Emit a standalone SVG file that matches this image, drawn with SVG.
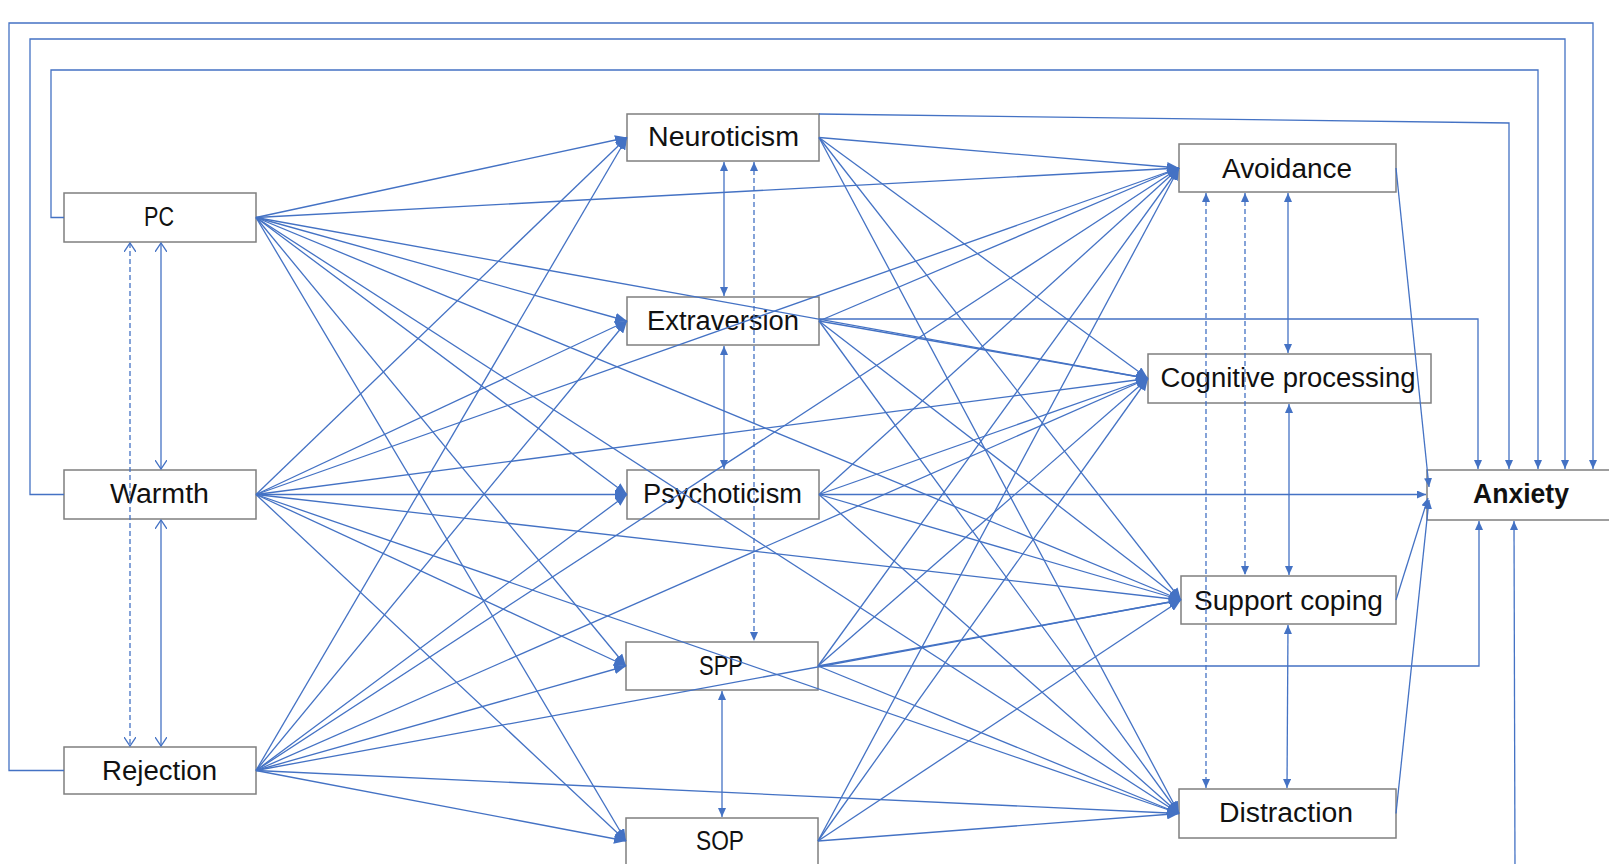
<svg xmlns="http://www.w3.org/2000/svg" width="1609" height="864" viewBox="0 0 1609 864">
<style>
.box{fill:#fff;stroke:#7f7f7f;stroke-width:1.5}
.t{font-family:"Liberation Sans",Arial,sans-serif;font-size:27px;fill:#111;text-anchor:middle}
.b{font-weight:bold}
.c{stroke:#4472C4;stroke-width:1.3;fill:none}
.f{marker-end:url(#big)}
.d{stroke-dasharray:5,3}
.s2{marker-start:url(#sm);marker-end:url(#sm)}
.v2{marker-start:url(#v);marker-end:url(#v)}
.se{marker-end:url(#sm)}
</style>
<defs>
<marker id="big" markerUnits="userSpaceOnUse" markerWidth="12" markerHeight="10" refX="12" refY="5" orient="auto"><path d="M0,0 L12,5 L0,10 z" fill="#4472C4"/></marker>
<marker id="sm" markerUnits="userSpaceOnUse" markerWidth="9" markerHeight="8" refX="9" refY="4" orient="auto-start-reverse"><path d="M0,0 L9,4 L0,8 z" fill="#4472C4"/></marker>
<marker id="v" markerUnits="userSpaceOnUse" markerWidth="10" markerHeight="12" refX="9" refY="6" orient="auto-start-reverse"><path d="M0,0 L9,6 L0,12" fill="none" stroke="#4472C4" stroke-width="1.3"/></marker>
</defs>
<rect width="1609" height="864" fill="#fff"/>
<g id="PC"><rect class="box" x="64" y="193" width="192" height="49"/><text class="t" x="159" y="226" textLength="30" lengthAdjust="spacingAndGlyphs">PC</text></g>
<g id="Warmth"><rect class="box" x="64" y="470" width="192" height="49"/><text class="t" x="159.5" y="503" textLength="99" lengthAdjust="spacingAndGlyphs">Warmth</text></g>
<g id="Rejection"><rect class="box" x="64" y="747" width="192" height="47"/><text class="t" x="159.5" y="780" textLength="115" lengthAdjust="spacingAndGlyphs">Rejection</text></g>
<g id="Neuroticism"><rect class="box" x="627" y="114" width="192" height="47"/><text class="t" x="723.5" y="146" textLength="151" lengthAdjust="spacingAndGlyphs">Neuroticism</text></g>
<g id="Extraversion"><rect class="box" x="627" y="297" width="192" height="48"/><text class="t" x="723" y="330" textLength="152" lengthAdjust="spacingAndGlyphs">Extraversion</text></g>
<g id="Psychoticism"><rect class="box" x="627" y="470" width="192" height="49"/><text class="t" x="722.5" y="503" textLength="159" lengthAdjust="spacingAndGlyphs">Psychoticism</text></g>
<g id="SPP"><rect class="box" x="626" y="642" width="192" height="48"/><text class="t" x="721" y="675" textLength="44" lengthAdjust="spacingAndGlyphs">SPP</text></g>
<g id="SOP"><rect class="box" x="626" y="818" width="192" height="50"/><text class="t" x="720" y="850" textLength="48" lengthAdjust="spacingAndGlyphs">SOP</text></g>
<g id="Avoidance"><rect class="box" x="1179" y="144" width="217" height="48"/><text class="t" x="1287" y="178" textLength="130" lengthAdjust="spacingAndGlyphs">Avoidance</text></g>
<g id="Cognitive"><rect class="box" x="1148" y="354" width="283" height="49"/><text class="t" x="1288" y="387" textLength="255" lengthAdjust="spacingAndGlyphs">Cognitive processing</text></g>
<g id="Support"><rect class="box" x="1181" y="576" width="215" height="48"/><text class="t" x="1288.5" y="610" textLength="189" lengthAdjust="spacingAndGlyphs">Support coping</text></g>
<g id="Distraction"><rect class="box" x="1179" y="789" width="217" height="49"/><text class="t" x="1286" y="822" textLength="134" lengthAdjust="spacingAndGlyphs">Distraction</text></g>
<g id="Anxiety"><rect class="box" x="1427" y="470" width="200" height="50"/><text class="t b" x="1521" y="503" textLength="96" lengthAdjust="spacingAndGlyphs">Anxiety</text></g>
<g id="connectors">
<!-- feedback routes to Anxiety -->
<polyline class="c se" points="64,770.5 9,770.5 9,23 1593,23 1593,469"/>
<polyline class="c se" points="64,494.5 30,494.5 30,39 1565,39 1565,469"/>
<polyline class="c se" points="64,217.5 51,217.5 51,70 1538,70 1538,469"/>
<polyline class="c se" points="819,114 1509,123 1509,469"/>
<polyline class="c se" points="819,319 1478,319 1478,469"/>
<line class="c se" x1="819" y1="494.5" x2="1426" y2="494.5"/>
<polyline class="c se" points="818,666 1479,666 1479,521"/>
<line class="c se" x1="1515" y1="870" x2="1514" y2="521"/>
<line class="c se" x1="1396" y1="168" x2="1429" y2="487"/>
<line class="c se" x1="1396" y1="600" x2="1428" y2="498"/>
<line class="c se" x1="1396" y1="813.5" x2="1429" y2="500"/>
<!-- left vertical -->
<line class="c v2" x1="161" y1="243" x2="161" y2="469"/>
<line class="c v2" x1="161" y1="520" x2="161" y2="746"/>
<line class="c d v2" x1="130" y1="243" x2="130" y2="746"/>
<!-- middle vertical -->
<line class="c s2" x1="724" y1="162" x2="724" y2="296"/>
<line class="c s2" x1="724" y1="346" x2="724" y2="469"/>
<line class="c d s2" x1="754" y1="162" x2="754" y2="641"/>
<line class="c s2" x1="722" y1="691" x2="722" y2="817"/>
<!-- right vertical -->
<line class="c s2" x1="1288" y1="193" x2="1288" y2="353"/>
<line class="c s2" x1="1289" y1="404" x2="1289" y2="575"/>
<line class="c s2" x1="1288" y1="625" x2="1287" y2="788"/>
<line class="c d s2" x1="1245" y1="193" x2="1245" y2="575"/>
<line class="c d s2" x1="1206" y1="193" x2="1206" y2="788"/>
<!-- PC fan -->
<line class="c f" x1="256" y1="217.5" x2="627" y2="137.5"/>
<line class="c f" x1="256" y1="217.5" x2="627" y2="321"/>
<line class="c f" x1="256" y1="217.5" x2="627" y2="494.5"/>
<line class="c f" x1="256" y1="217.5" x2="626" y2="666"/>
<line class="c f" x1="256" y1="217.5" x2="626" y2="841"/>
<line class="c f" x1="256" y1="217.5" x2="1179" y2="168"/>
<line class="c f" x1="256" y1="217.5" x2="1148" y2="378.5"/>
<line class="c f" x1="256" y1="217.5" x2="1181" y2="600"/>
<line class="c f" x1="256" y1="217.5" x2="1179" y2="813.5"/>
<!-- Warmth fan -->
<line class="c f" x1="256" y1="494.5" x2="627" y2="137.5"/>
<line class="c f" x1="256" y1="494.5" x2="627" y2="321"/>
<line class="c f" x1="256" y1="494.5" x2="627" y2="494.5"/>
<line class="c f" x1="256" y1="494.5" x2="626" y2="666"/>
<line class="c f" x1="256" y1="494.5" x2="626" y2="841"/>
<line class="c f" x1="256" y1="494.5" x2="1179" y2="168"/>
<line class="c f" x1="256" y1="494.5" x2="1148" y2="378.5"/>
<line class="c f" x1="256" y1="494.5" x2="1181" y2="600"/>
<line class="c f" x1="256" y1="494.5" x2="1179" y2="813.5"/>
<!-- Rejection fan -->
<line class="c f" x1="256" y1="770.5" x2="627" y2="137.5"/>
<line class="c f" x1="256" y1="770.5" x2="627" y2="321"/>
<line class="c f" x1="256" y1="770.5" x2="627" y2="494.5"/>
<line class="c f" x1="256" y1="770.5" x2="626" y2="666"/>
<line class="c f" x1="256" y1="770.5" x2="626" y2="841"/>
<line class="c f" x1="256" y1="770.5" x2="1179" y2="168"/>
<line class="c f" x1="256" y1="770.5" x2="1148" y2="378.5"/>
<line class="c f" x1="256" y1="770.5" x2="1181" y2="600"/>
<line class="c f" x1="256" y1="770.5" x2="1179" y2="813.5"/>
<!-- Neuroticism fan -->
<line class="c f" x1="819" y1="137.5" x2="1179" y2="168"/>
<line class="c f" x1="819" y1="137.5" x2="1148" y2="378.5"/>
<line class="c f" x1="819" y1="137.5" x2="1181" y2="600"/>
<line class="c f" x1="819" y1="137.5" x2="1179" y2="813.5"/>
<!-- Extraversion fan -->
<line class="c f" x1="819" y1="321" x2="1179" y2="168"/>
<line class="c f" x1="819" y1="321" x2="1148" y2="378.5"/>
<line class="c f" x1="819" y1="321" x2="1181" y2="600"/>
<line class="c f" x1="819" y1="321" x2="1179" y2="813.5"/>
<!-- Psychoticism fan -->
<line class="c f" x1="819" y1="494.5" x2="1179" y2="168"/>
<line class="c f" x1="819" y1="494.5" x2="1148" y2="378.5"/>
<line class="c f" x1="819" y1="494.5" x2="1181" y2="600"/>
<line class="c f" x1="819" y1="494.5" x2="1179" y2="813.5"/>
<!-- SPP fan -->
<line class="c f" x1="818" y1="666" x2="1179" y2="168"/>
<line class="c f" x1="818" y1="666" x2="1148" y2="378.5"/>
<line class="c f" x1="818" y1="666" x2="1181" y2="600"/>
<line class="c f" x1="818" y1="666" x2="1179" y2="813.5"/>
<!-- SOP fan -->
<line class="c f" x1="818" y1="841" x2="1179" y2="168"/>
<line class="c f" x1="818" y1="841" x2="1148" y2="378.5"/>
<line class="c f" x1="818" y1="841" x2="1181" y2="600"/>
<line class="c f" x1="818" y1="841" x2="1179" y2="813.5"/>
</g>
</svg>
